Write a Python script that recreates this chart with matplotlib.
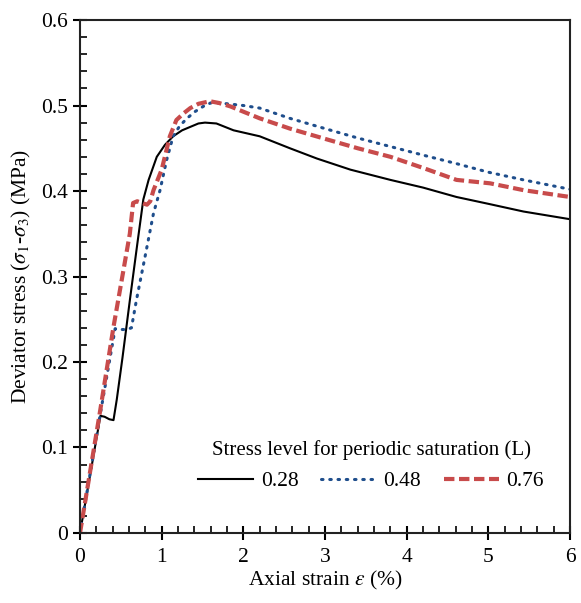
import numpy as np
import matplotlib.pyplot as plt
from matplotlib.ticker import MultipleLocator

plt.rcParams['font.family'] = ['Liberation Serif', 'DejaVu Serif']
plt.rcParams['mathtext.fontset'] = 'stix'

# Axial strain (%) and deviator stress (MPa) for each stress level L
strain_028 = [0, 0.25, 0.30, 0.36, 0.41, 0.45, 0.52, 0.61, 0.70, 0.775, 0.84, 0.94,
              1.04, 1.14, 1.25, 1.35, 1.45, 1.53, 1.67, 1.88, 2.2, 2.57, 2.9, 3.31,
              3.8, 4.2, 4.61, 5.0, 5.43, 6.0]
stress_028 = [0, 0.137, 0.136, 0.133, 0.132, 0.156, 0.205, 0.272, 0.337, 0.39, 0.413, 0.44,
              0.454, 0.464, 0.471, 0.475, 0.479, 0.480, 0.479, 0.471, 0.464, 0.450, 0.438, 0.425,
              0.413, 0.404, 0.393, 0.385, 0.376, 0.367]

strain_048 = [0, 0.25, 0.43, 0.50, 0.58, 0.63, 0.69, 0.80, 0.90, 0.98, 1.06, 1.14,
              1.22, 1.31, 1.41, 1.51, 1.60, 1.71, 2.0, 2.2, 2.57, 3.0, 3.4, 3.8,
              4.2, 4.61, 5.0, 5.43, 6.0]
stress_048 = [0, 0.14, 0.239, 0.238, 0.238, 0.240, 0.272, 0.325, 0.374, 0.401, 0.436, 0.464,
              0.476, 0.485, 0.493, 0.499, 0.503, 0.503, 0.500, 0.497, 0.485, 0.473, 0.462, 0.452,
              0.442, 0.432, 0.422, 0.413, 0.402]

strain_076 = [0, 0.25, 0.41, 0.61, 0.65, 0.70, 0.76, 0.82, 0.86, 0.90, 1.0, 1.10,
              1.18, 1.27, 1.35, 1.45, 1.59, 1.70, 1.84, 2.2, 2.57, 3.0, 3.4, 3.8,
              4.2, 4.61, 5.02, 5.43, 6.0]
stress_076 = [0, 0.145, 0.241, 0.35, 0.386, 0.388, 0.386, 0.384, 0.388, 0.401, 0.425, 0.464,
              0.483, 0.491, 0.497, 0.502, 0.505, 0.503, 0.499, 0.485, 0.473, 0.461, 0.450, 0.440,
              0.427, 0.413, 0.409, 0.401, 0.393]

labels = ['0.28', '0.48', '0.76']

fig = plt.figure(figsize=(5.81, 6.03), dpi=100)
ax = fig.add_axes([0.1377, 0.1161, 0.8435, 0.8507])

ax.plot(strain_028, stress_028, color='black', lw=1.5, label=labels[0])
ax.plot(strain_048, stress_048, color='#1F4E8C', lw=2.2, linestyle=(0, (0.5, 2.2)),
        dash_capstyle='round', label=labels[1])
ax.plot(strain_076, stress_076, color='#C84B4B', lw=3, linestyle=(0, (2.5, 1.1)),
        label=labels[2])

ax.set_xlim(0, 6)
ax.set_ylim(0, 0.6)
ax.xaxis.set_major_locator(MultipleLocator(1))
ax.xaxis.set_minor_locator(MultipleLocator(0.2))
ax.yaxis.set_major_locator(MultipleLocator(0.1))
ax.yaxis.set_minor_locator(MultipleLocator(0.02))
ax.set_yticks(np.arange(0, 0.61, 0.1))
ax.set_yticklabels(['0', '0.1', '0.2', '0.3', '0.4', '0.5', '0.6'])
ax.tick_params(which='major', direction='inout', length=10, width=1.5, labelsize=15.5)
ax.tick_params(which='minor', direction='in', length=5, width=1.2)
ax.tick_params(axis='x', pad=6)
for s in ax.spines.values():
    s.set_linewidth(1.5)
    s.set_color('#222222')

ax.set_xlabel(r'Axial strain $\varepsilon$ (%)', fontsize=15.5, labelpad=1)
ax.set_ylabel(r'Deviator stress ($\sigma_1$-$\sigma_3$) (MPa)', fontsize=15.5, labelpad=6)

leg = ax.legend(title='Stress level for periodic saturation (L)', ncol=3,
                loc='center', bbox_to_anchor=(0.594, 0.131), frameon=False,
                fontsize=15.5, title_fontsize=15, handlelength=2.55,
                handletextpad=0.35, columnspacing=1.05)
leg._legend_box.sep = 8

fig.savefig('out.png', dpi=100)
